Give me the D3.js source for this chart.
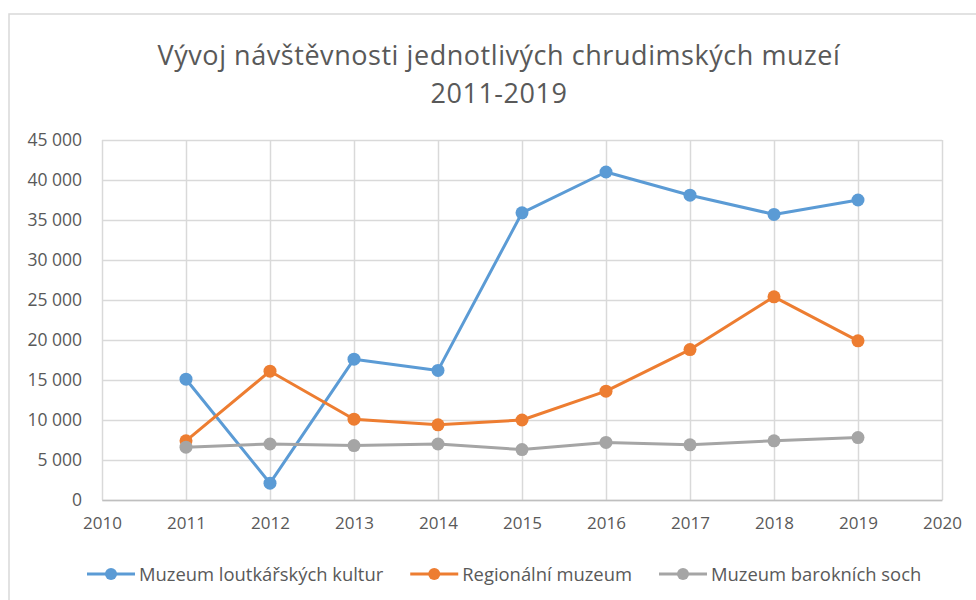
<!DOCTYPE html>
<html>
<head>
<meta charset="utf-8">
<title>Vývoj návštěvnosti</title>
<script src="https://d3js.org/d3.v7.min.js"></script>
<style>
  body { margin: 0; background: #fff; }
  text { font-family: "Open Sans", Lato, sans-serif; fill: #595959; }
</style>
</head>
<body>
<svg id="chart" width="976" height="600"></svg>
<script>
// data
var years = [2011, 2012, 2013, 2014, 2015, 2016, 2017, 2018, 2019];
var loutkar = [15100, 2100, 17600, 16200, 35900, 41000, 38100, 35700, 37500];
var regional = [7400, 16100, 10100, 9400, 10000, 13600, 18800, 25400, 19900];
var barok = [6600, 7000, 6800, 7000, 6300, 7200, 6900, 7400, 7800];
var seriesNames = ["Muzeum loutkářských kultur", "Regionální muzeum", "Muzeum barokních soch"];
var colors = ["#5b9bd5", "#ed7d31", "#a5a5a5"];
var titleLines = ["Vývoj návštěvnosti jednotlivých chrudimských muzeí", "2011-2019"];

var series = [loutkar, regional, barok].map(function (vals, i) {
  return { name: seriesNames[i], color: colors[i],
    values: vals.map(function (v, j) { return { year: years[j], value: v }; }) };
});

var svg = d3.select("#chart");
var margin = { left: 102, right: 34, top: 140, bottom: 100 };
var width = 976 - margin.left - margin.right,
    height = 600 - margin.top - margin.bottom;

// outer chart border
svg.append("rect")
  .attr("x", 9).attr("y", 14).attr("width", 990).attr("height", 600)
  .attr("fill", "none").attr("stroke", "#d9d9d9").attr("stroke-width", 1.5);

// title
svg.append("g").selectAll("text")
  .data(titleLines).enter().append("text")
  .attr("x", 499).attr("y", function (d, i) { return 65 + i * 38; })
  .attr("text-anchor", "middle")
  .style("font-size", "27px")
  .style("letter-spacing", "0.55px")
  .text(function (d) { return d; });

var x = d3.scaleLinear().domain([2010, 2020]).range([0, width]);
var y = d3.scaleLinear().domain([0, 45000]).range([height, 0]);

var cz = d3.formatLocale({ decimal: ",", thousands: "\u00a0", grouping: [3], currency: ["", " Kč"] });
var fmt = cz.format(",d");

var g = svg.append("g").attr("transform", "translate(" + margin.left + "," + margin.top + ")");

// horizontal grid
g.append("g")
  .call(d3.axisLeft(y).tickValues(d3.range(0, 45001, 5000)).tickSize(-width).tickFormat(""))
  .call(function (s) { s.select(".domain").remove(); })
  .selectAll("line").attr("stroke", "#d9d9d9").attr("stroke-width", 1.5);

// vertical grid
g.append("g").attr("transform", "translate(0," + height + ")")
  .call(d3.axisBottom(x).tickValues(d3.range(2010, 2021)).tickSize(-height).tickFormat(""))
  .call(function (s) { s.select(".domain").remove(); })
  .selectAll("line").attr("stroke", "#d9d9d9").attr("stroke-width", 1.5);

// y axis labels
g.append("g")
  .call(d3.axisLeft(y).tickValues(d3.range(0, 45001, 5000)).tickSize(0).tickPadding(20).tickFormat(fmt))
  .call(function (s) { s.select(".domain").remove(); })
  .selectAll("text").style("font-size", "17.5px").attr("fill", "#595959");

// x axis
var xa = g.append("g").attr("transform", "translate(0," + height + ")")
  .call(d3.axisBottom(x).tickValues(d3.range(2010, 2021)).tickSize(0).tickPadding(17).tickFormat(d3.format("d")));
xa.select(".domain").attr("stroke", "#bfbfbf").attr("stroke-width", 1.5);
xa.selectAll("text").style("font-size", "17px").attr("fill", "#595959");

// lines and markers
var line = d3.line().x(function (d) { return x(d.year); }).y(function (d) { return y(d.value); });

var sg = g.selectAll(".series").data(series).enter().append("g").attr("class", "series");
sg.append("path")
  .attr("d", function (d) { return line(d.values); })
  .attr("fill", "none")
  .attr("stroke", function (d) { return d.color; })
  .attr("stroke-width", 3)
  .attr("stroke-linejoin", "round");
sg.selectAll("circle").data(function (d) { return d.values.map(function (v) { return { v: v, c: d.color }; }); })
  .enter().append("circle")
  .attr("cx", function (d) { return x(d.v.year); })
  .attr("cy", function (d) { return y(d.v.value); })
  .attr("r", 6.5)
  .attr("fill", function (d) { return d.c; });

// legend
var legend = svg.append("g").attr("transform", "translate(87,574)");
var lx = 0;
series.forEach(function (s) {
  var it = legend.append("g").attr("transform", "translate(" + lx + ",0)");
  it.append("line").attr("x1", 0).attr("x2", 48).attr("y1", 0).attr("y2", 0)
    .attr("stroke", s.color).attr("stroke-width", 3);
  it.append("circle").attr("cx", 24).attr("cy", 0).attr("r", 6).attr("fill", s.color);
  var t = it.append("text").attr("x", 52).attr("y", 6.5).style("font-size", "18.4px").text(s.name);
  lx += 52 + t.node().getComputedTextLength() + 27;
});
</script>
</body>
</html>
